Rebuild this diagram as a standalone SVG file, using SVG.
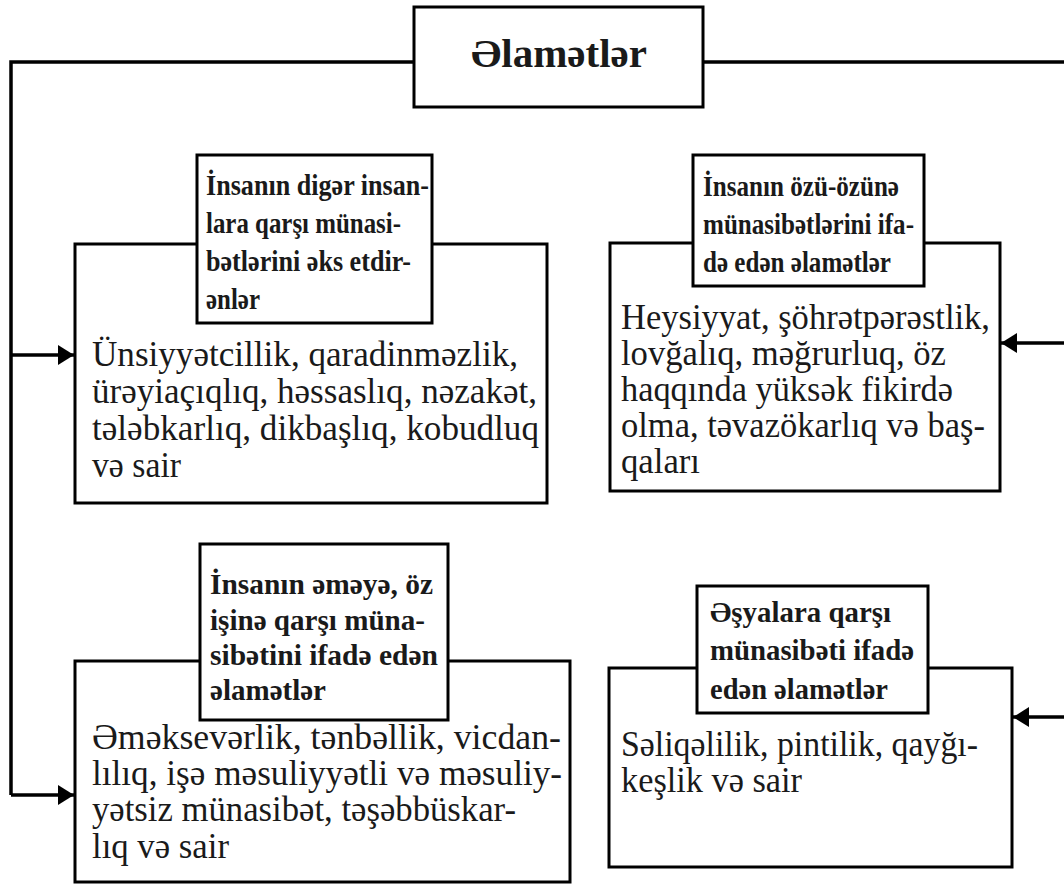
<svg xmlns="http://www.w3.org/2000/svg" width="1064" height="884" viewBox="0 0 1064 884">
<defs>
<style>
.box{fill:#fff;stroke:#000;stroke-width:3}
.ln{fill:none;stroke:#000;stroke-width:3.5}
.body{font-family:"Liberation Serif","Times New Roman",serif;font-size:35px;fill:#1a1a1a}
.lab{font-family:"Liberation Serif","Times New Roman",serif;font-size:29.5px;font-weight:bold;fill:#1a1a1a}
.title{font-family:"Liberation Serif","Times New Roman",serif;font-size:40px;font-weight:bold;fill:#1a1a1a}
</style>
<marker id="ah" viewBox="0 0 16 20" refX="16" refY="10" markerWidth="16" markerHeight="20" markerUnits="userSpaceOnUse" orient="auto">
<path d="M0,0 L16,10 L0,20 Z" fill="#000"/>
</marker>
</defs>
<rect width="1064" height="884" fill="#fff"/>
<g id="connectors">
<path class="ln" d="M414,62 H11 V795"/>
<path class="ln" d="M703,62 H1066"/>
<path class="ln" d="M11,355 H74" marker-end="url(#ah)"/>
<path class="ln" d="M11,795 H74" marker-end="url(#ah)"/>
<path class="ln" d="M1066,343 H1001" marker-end="url(#ah)"/>
<path class="ln" d="M1066,717 H1013" marker-end="url(#ah)"/>
</g>
<g id="title">
<rect class="box" x="414" y="7" width="289" height="100"/>
<text class="title" x="471" y="67" textLength="176" lengthAdjust="spacingAndGlyphs">Əlamətlər</text>
</g>
<g id="node1">
<rect class="box" x="75" y="244" width="472" height="259"/>
<text class="body" x="92" y="366" textLength="426" lengthAdjust="spacingAndGlyphs">Ünsiyyətcillik, qaradinməzlik,</text>
<text class="body" x="92" y="403" textLength="445" lengthAdjust="spacingAndGlyphs">ürəyiaçıqlıq, həssaslıq, nəzakət,</text>
<text class="body" x="92" y="440" textLength="447" lengthAdjust="spacingAndGlyphs">tələbkarlıq, dikbaşlıq, kobudluq</text>
<text class="body" x="92" y="477" textLength="89" lengthAdjust="spacingAndGlyphs">və sair</text>
<rect class="box" x="197" y="155" width="235" height="168"/>
<text class="lab" x="206" y="195" textLength="223" lengthAdjust="spacingAndGlyphs">İnsanın digər insan-</text>
<text class="lab" x="206" y="233" textLength="195" lengthAdjust="spacingAndGlyphs">lara qarşı münasi-</text>
<text class="lab" x="206" y="271" textLength="205" lengthAdjust="spacingAndGlyphs">bətlərini əks etdir-</text>
<text class="lab" x="206" y="309" textLength="54" lengthAdjust="spacingAndGlyphs">ənlər</text>
</g>
<g id="node2">
<rect class="box" x="610" y="243" width="390" height="248"/>
<text class="body" x="621" y="329" textLength="369" lengthAdjust="spacingAndGlyphs">Heysiyyat, şöhrətpərəstlik,</text>
<text class="body" x="621" y="365" textLength="325" lengthAdjust="spacingAndGlyphs">lovğalıq, məğrurluq, öz</text>
<text class="body" x="621" y="401" textLength="332" lengthAdjust="spacingAndGlyphs">haqqında yüksək fikirdə</text>
<text class="body" x="621" y="437" textLength="364" lengthAdjust="spacingAndGlyphs">olma, təvazökarlıq və baş-</text>
<text class="body" x="621" y="473" textLength="79" lengthAdjust="spacingAndGlyphs">qaları</text>
<rect class="box" x="693" y="155" width="231" height="131"/>
<text class="lab" x="703" y="196" textLength="196" lengthAdjust="spacingAndGlyphs">İnsanın özü-özünə</text>
<text class="lab" x="703" y="234" textLength="211" lengthAdjust="spacingAndGlyphs">münasibətlərini ifa-</text>
<text class="lab" x="703" y="272" textLength="188" lengthAdjust="spacingAndGlyphs">də edən əlamətlər</text>
</g>
<g id="node3">
<rect class="box" x="75" y="661" width="495" height="221"/>
<text class="body" x="92" y="749" textLength="469" lengthAdjust="spacingAndGlyphs">Əməksevərlik, tənbəllik, vicdan-</text>
<text class="body" x="92" y="785" textLength="470" lengthAdjust="spacingAndGlyphs">lılıq, işə məsuliyyətli və məsuliy-</text>
<text class="body" x="92" y="821" textLength="424" lengthAdjust="spacingAndGlyphs">yətsiz münasibət, təşəbbüskar-</text>
<text class="body" x="92" y="858" textLength="137" lengthAdjust="spacingAndGlyphs">lıq və sair</text>
<rect class="box" x="200" y="544" width="248" height="176"/>
<text class="lab" x="210" y="594" textLength="223" lengthAdjust="spacingAndGlyphs">İnsanın əməyə, öz</text>
<text class="lab" x="210" y="630" textLength="215" lengthAdjust="spacingAndGlyphs">işinə qarşı müna-</text>
<text class="lab" x="210" y="665" textLength="228" lengthAdjust="spacingAndGlyphs">sibətini ifadə edən</text>
<text class="lab" x="210" y="700" textLength="116" lengthAdjust="spacingAndGlyphs">əlamətlər</text>
</g>
<g id="node4">
<rect class="box" x="609" y="668" width="403" height="199"/>
<text class="body" x="621" y="756" textLength="357" lengthAdjust="spacingAndGlyphs">Səliqəlilik, pintilik, qayğı-</text>
<text class="body" x="621" y="792" textLength="181" lengthAdjust="spacingAndGlyphs">keşlik və sair</text>
<rect class="box" x="697" y="586" width="231" height="127"/>
<text class="lab" x="710" y="622" textLength="181" lengthAdjust="spacingAndGlyphs">Əşyalara qarşı</text>
<text class="lab" x="710" y="660" textLength="204" lengthAdjust="spacingAndGlyphs">münasibəti ifadə</text>
<text class="lab" x="710" y="699" textLength="178" lengthAdjust="spacingAndGlyphs">edən əlamətlər</text>
</g>
</svg>
